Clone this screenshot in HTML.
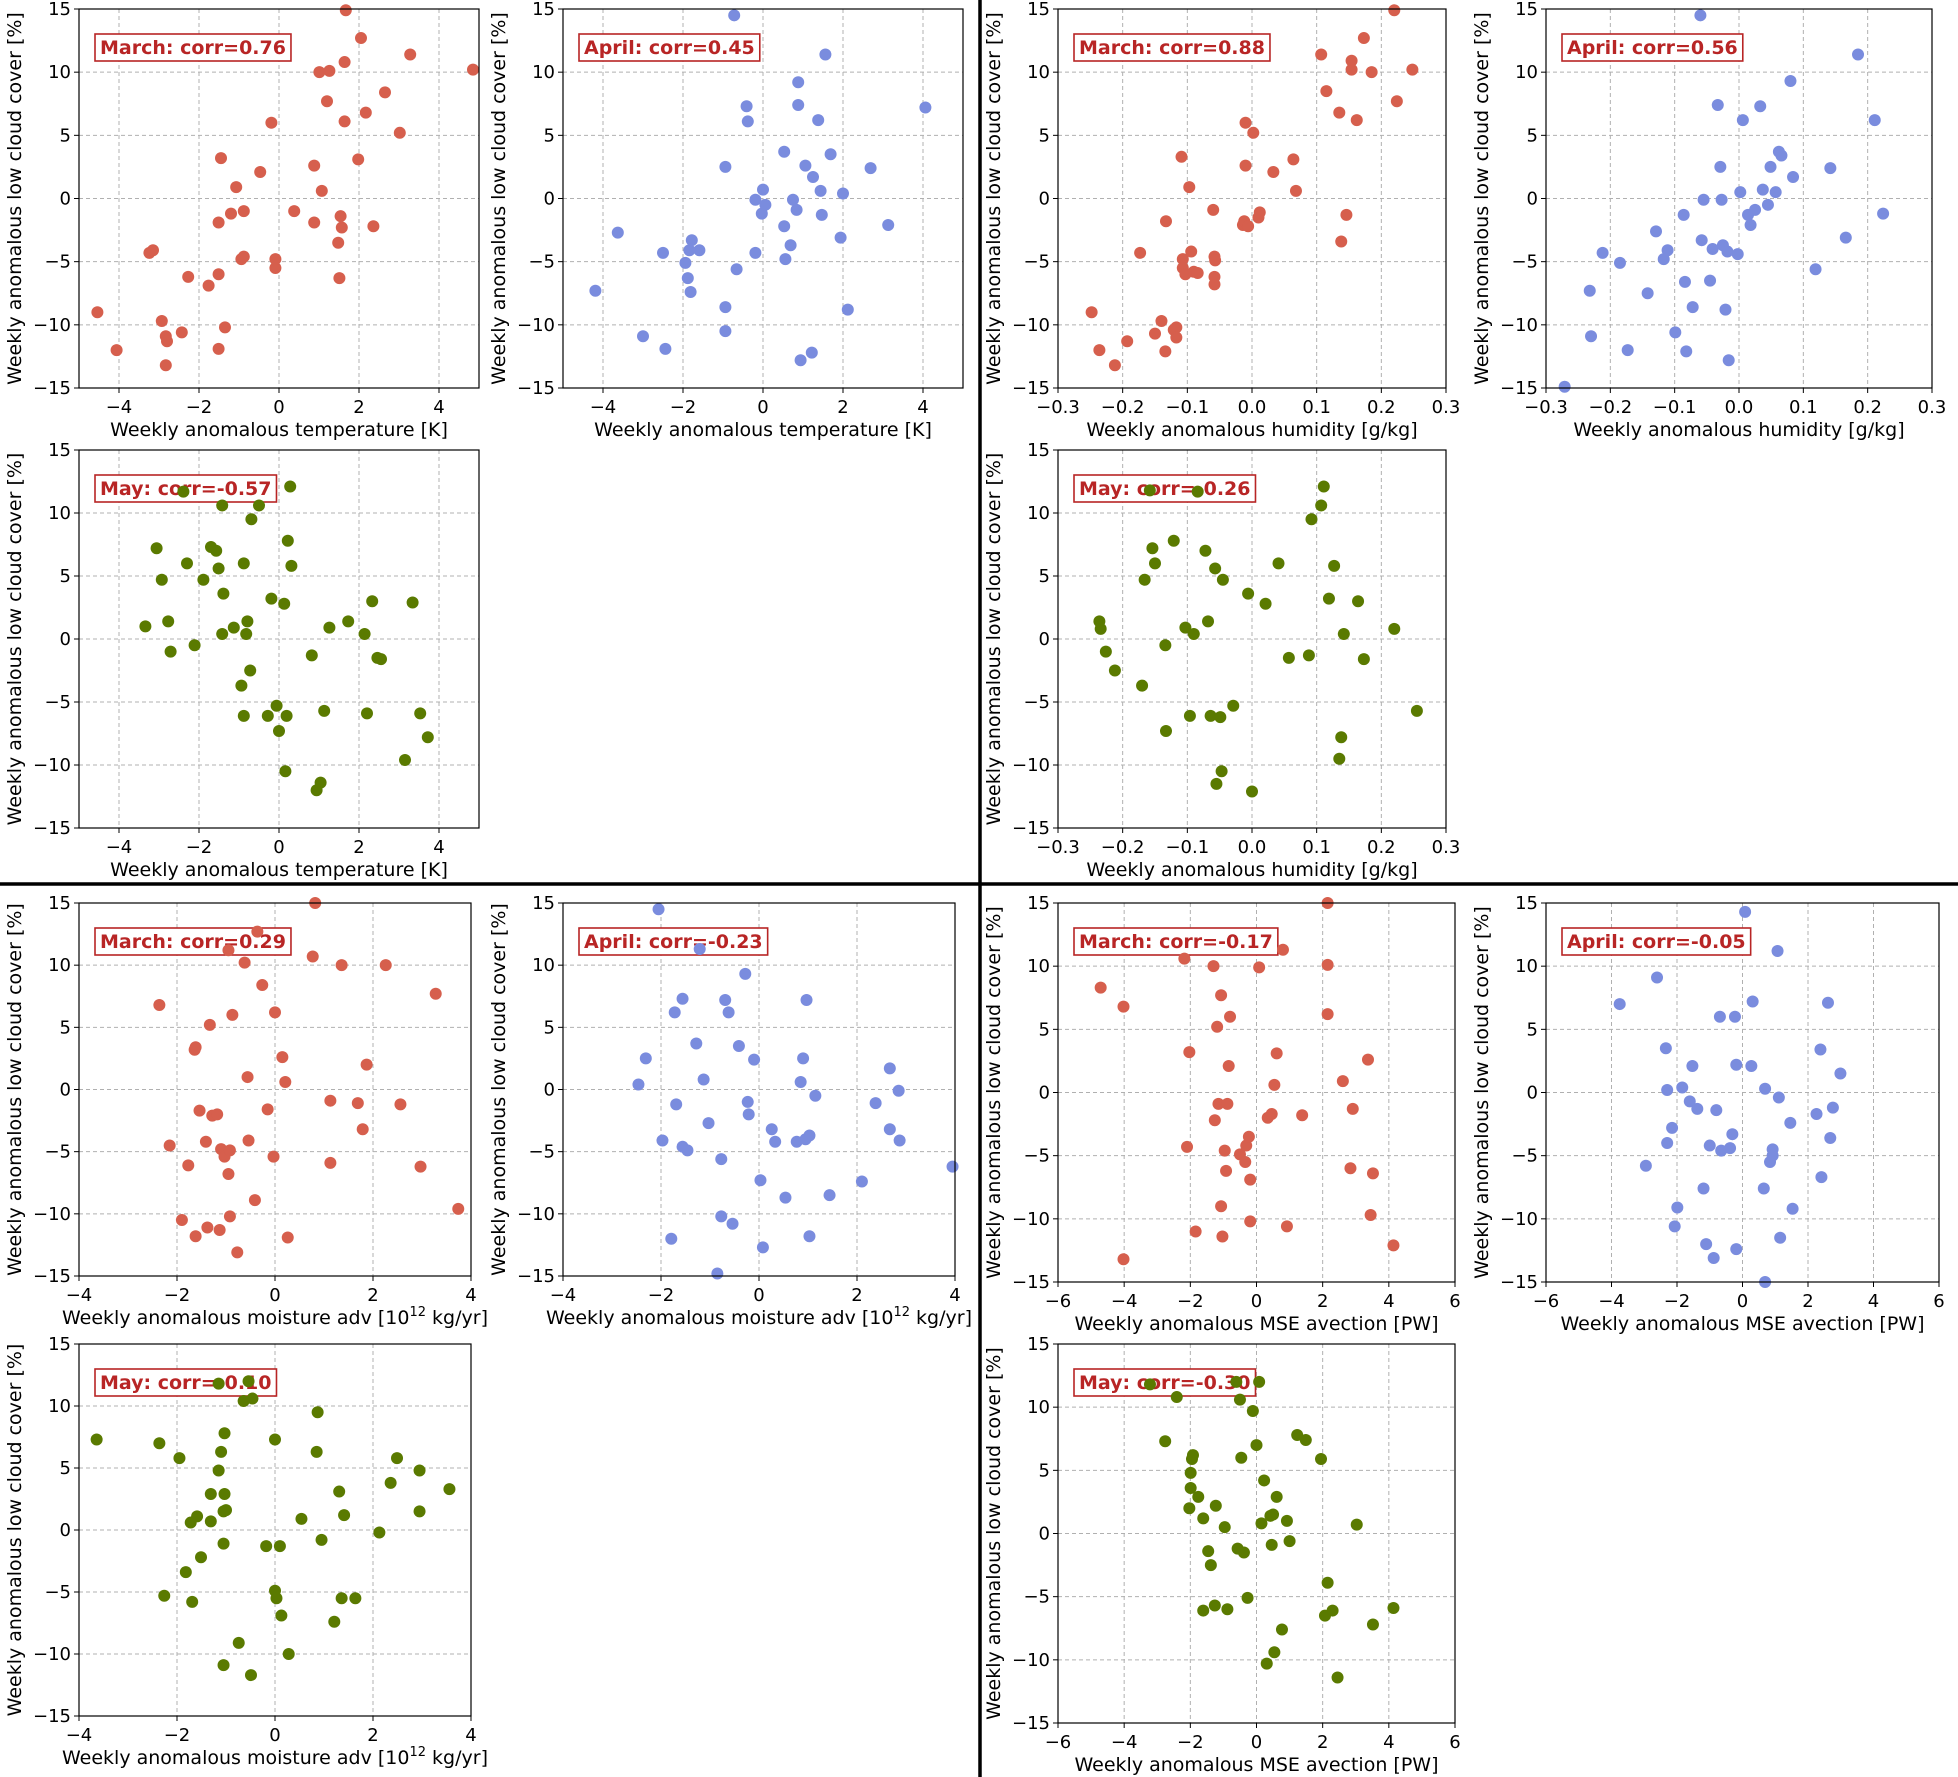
<!DOCTYPE html>
<html><head><meta charset="utf-8"><title>Weekly anomalous low cloud cover scatter panels</title>
<style>
html,body{margin:0;padding:0;background:#fff;}
svg{display:block;font-family:"DejaVu Sans","Liberation Sans",sans-serif;}
</style></head>
<body>
<svg id="fig" width="1958" height="1777" viewBox="0 0 1958 1777" xmlns="http://www.w3.org/2000/svg">
<rect x="0" y="0" width="1958" height="1777" fill="#fff"/>
<line x1="980" y1="0" x2="980" y2="1777" stroke="#000" stroke-width="3.5"/>
<line x1="0" y1="884" x2="1958" y2="884" stroke="#000" stroke-width="3.5"/>
</svg>
<script>
// ---- data (x = predictor anomaly, y = low cloud cover anomaly [%]) ----
const tempMarX=[-4.54,-4.06,-3.24,-3.15,-2.93,-2.83,-2.80,-2.83,-2.43,-2.27,-1.76,-1.45,-1.51,-1.51,-1.51,-1.35,-1.20,-1.07,-0.94,-0.88,-0.88,-0.47,-0.19,-0.09,-0.09,0.38,0.88,0.88,1.01,1.07,1.20,1.26,1.54,1.57,1.64,1.64,1.67,1.51,1.48,1.98,2.05,2.17,2.36,2.65,3.02,3.28,4.85];
const tempMarY=[-9.0,-12.0,-4.3,-4.1,-9.7,-10.9,-11.3,-13.2,-10.6,-6.2,-6.9,3.2,-1.9,-6.0,-11.9,-10.2,-1.2,0.9,-4.8,-4.6,-1.0,2.1,6.0,-5.5,-4.8,-1.0,2.6,-1.9,10.0,0.6,7.7,10.1,-1.4,-2.3,6.1,10.8,14.9,-6.3,-3.5,3.1,12.7,6.8,-2.2,8.4,5.2,11.4,10.2];
const tempAprX=[-4.19,-3.63,-3.0,-2.5,-2.44,-1.94,-1.88,-1.84,-1.81,-1.78,-1.59,-0.94,-0.94,-0.94,-0.66,-0.72,-0.41,-0.38,-0.19,-0.19,-0.03,0,0.06,0.53,0.53,0.56,0.69,0.75,0.84,0.88,0.88,0.94,1.06,1.22,1.25,1.38,1.44,1.47,1.56,1.69,1.94,2.0,2.12,2.69,3.13,4.06];
const tempAprY=[-7.3,-2.7,-10.9,-4.3,-11.9,-5.1,-6.3,-4.1,-7.4,-3.3,-4.1,2.5,-8.6,-10.5,-5.6,14.5,7.3,6.1,-0.1,-4.3,-1.2,0.7,-0.5,3.7,-2.2,-4.8,-3.7,-0.1,-0.9,9.2,7.4,-12.8,2.6,-12.2,1.7,6.2,0.6,-1.3,11.4,3.5,-3.1,0.4,-8.8,2.4,-2.1,7.2];
const humMarX=[-0.248,-0.236,-0.212,-0.193,-0.173,-0.150,-0.140,-0.134,-0.133,-0.121,-0.117,-0.117,-0.109,-0.107,-0.107,-0.103,-0.097,-0.094,-0.090,-0.084,-0.060,-0.058,-0.058,-0.058,-0.057,-0.014,-0.012,-0.010,-0.010,-0.006,0.002,0.010,0.012,0.033,0.064,0.068,0.107,0.115,0.135,0.138,0.146,0.154,0.154,0.162,0.173,0.185,0.220,0.224,0.248];
const humMarY=[-9.0,-12.0,-13.2,-11.3,-4.3,-10.7,-9.7,-12.1,-1.8,-10.4,-10.2,-11.0,3.3,-4.8,-5.5,-6.0,0.9,-4.2,-5.8,-5.9,-0.9,-6.8,-4.6,-6.2,-4.9,-2.1,-1.8,6.0,2.6,-2.2,5.2,-1.5,-1.1,2.1,3.1,0.6,11.4,8.5,6.8,-3.4,-1.3,10.2,10.9,6.2,12.7,10.0,14.9,7.7,10.2];
const humAprX=[-0.271,-0.232,-0.230,-0.212,-0.185,-0.173,-0.142,-0.129,-0.117,-0.111,-0.099,-0.086,-0.084,-0.082,-0.072,-0.060,-0.058,-0.055,-0.045,-0.041,-0.033,-0.029,-0.027,-0.025,-0.021,-0.018,-0.016,-0.002,0.002,0.006,0.014,0.018,0.025,0.033,0.037,0.045,0.049,0.057,0.062,0.066,0.080,0.084,0.119,0.142,0.166,0.185,0.211,0.224];
const humAprY=[-14.9,-7.3,-10.9,-4.3,-5.1,-12.0,-7.5,-2.6,-4.8,-4.1,-10.6,-1.3,-6.6,-12.1,-8.6,14.5,-3.3,-0.1,-6.5,-4.0,7.4,2.5,-0.1,-3.7,-8.8,-4.2,-12.8,-4.4,0.5,6.2,-1.3,-2.1,-0.9,7.3,0.7,-0.5,2.5,0.5,3.7,3.4,9.3,1.7,-5.6,2.4,-3.1,11.4,6.2,-1.2];
const tempMayX=[-3.34,-3.06,-2.93,-2.77,-2.71,-2.39,-2.30,-2.11,-1.89,-1.70,-1.57,-1.51,-1.39,-1.42,-1.42,-1.13,-0.94,-0.88,-0.88,-0.82,-0.79,-0.72,-0.69,-0.50,-0.28,-0.19,-0.06,0,0.13,0.19,0.16,0.22,0.28,0.31,0.82,0.94,1.04,1.13,1.26,1.73,2.14,2.20,2.33,2.46,2.55,3.15,3.34,3.53,3.72];
const tempMayY=[1.0,7.2,4.7,1.4,-1.0,11.7,6.0,-0.5,4.7,7.3,7.0,5.6,3.6,10.6,0.4,0.9,-3.7,6.0,-6.1,0.4,1.4,-2.5,9.5,10.6,-6.1,3.2,-5.3,-7.3,2.8,-6.1,-10.5,7.8,12.1,5.8,-1.3,-12.0,-11.4,-5.7,0.9,1.4,0.4,-5.9,3.0,-1.5,-1.6,-9.6,2.9,-5.9,-7.8];
const humMayX=[-0.236,-0.234,-0.226,-0.212,-0.170,-0.166,-0.158,-0.154,-0.150,-0.134,-0.133,-0.121,-0.103,-0.096,-0.090,-0.084,-0.072,-0.068,-0.064,-0.057,-0.055,-0.049,-0.047,-0.045,-0.029,-0.006,0.021,0.041,0.057,0.088,0.092,0.107,0.111,0.119,0.127,0.135,0.138,0.142,0.164,0.173,0.220,0.255,0.0];
const humMayY=[1.4,0.8,-1.0,-2.5,-3.7,4.7,11.8,7.2,6.0,-0.5,-7.3,7.8,0.9,-6.1,0.4,11.7,7.0,1.4,-6.1,5.6,-11.5,-6.2,-10.5,4.7,-5.3,3.6,2.8,6.0,-1.5,-1.3,9.5,10.6,12.1,3.2,5.8,-9.5,-7.8,0.4,3.0,-1.6,0.8,-5.7,-12.1];
const moiMarX=[-2.36,-2.15,-1.90,-1.77,-1.64,-1.62,-1.62,-1.54,-1.41,-1.38,-1.33,-1.28,-1.18,-1.13,-1.10,-1.03,-0.95,-0.92,-0.95,-0.92,-0.87,-0.77,-0.62,-0.56,-0.54,-0.41,-0.26,-0.36,-0.15,-0.03,0,0.15,0.21,0.26,0.77,0.82,1.13,1.13,1.36,1.69,1.79,1.87,2.26,2.56,2.97,3.28,3.74];
const moiMarY=[6.8,-4.5,-10.5,-6.1,3.2,-11.8,3.4,-1.7,-4.2,-11.1,5.2,-2.1,-2.0,-11.3,-4.8,-5.4,-6.8,-4.9,11.2,-10.2,6.0,-13.1,10.2,1.0,-4.1,-8.9,8.4,12.7,-1.6,-5.4,6.2,2.6,0.6,-11.9,10.7,15.0,-0.9,-5.9,10.0,-1.1,-3.2,2.0,10.0,-1.2,-6.2,7.7,-9.6];
const moiAprX=[-2.46,-2.31,-1.97,-2.05,-1.79,-1.69,-1.72,-1.56,-1.56,-1.46,-1.28,-1.21,-1.13,-1.03,-0.77,-0.77,-0.69,-0.62,-0.54,-0.85,-0.41,-0.28,-0.23,-0.21,-0.10,0.03,0.08,0.26,0.33,0.54,0.77,0.85,0.90,0.95,0.97,1.03,1.03,1.15,1.44,2.10,2.38,2.67,2.67,2.85,2.87,3.95];
const moiAprY=[0.4,2.5,-4.1,14.5,-12.0,-1.2,6.2,7.3,-4.6,-4.9,3.7,11.3,0.8,-2.7,-5.6,-10.2,7.2,6.2,-10.8,-14.8,3.5,9.3,-1.0,-2.0,2.4,-7.3,-12.7,-3.2,-4.2,-8.7,-4.2,0.6,2.5,-4.0,7.2,-3.7,-11.8,-0.5,-8.5,-7.4,-1.1,1.7,-3.2,-0.1,-4.1,-6.2];
const mseMarX=[-4.71,-4.02,-4.02,-2.18,-2.03,-2.10,-1.84,-1.30,-1.26,-1.19,-1.15,-1.07,-1.07,-1.03,-0.96,-0.92,-0.88,-0.84,-0.80,-0.50,-0.34,-0.31,-0.23,-0.19,-0.19,0.08,0.34,0.46,0.54,0.61,0.80,0.92,1.38,2.15,2.15,2.15,2.61,2.84,2.91,3.37,3.52,3.45,4.14];
const mseMarY=[8.3,6.8,-13.2,10.6,3.2,-4.3,-11.0,10.0,-2.2,5.2,-0.9,7.7,-9.0,-11.4,-4.6,-6.2,-0.9,2.1,6.0,-4.9,-5.5,-4.2,-3.5,-6.9,-10.2,9.9,-2.0,-1.7,0.6,3.1,11.3,-10.6,-1.8,15.0,6.2,10.1,0.9,-6.0,-1.3,2.6,-6.4,-9.7,-12.1];
const mseAprX=[-3.75,-2.95,-2.61,-2.30,-2.34,-2.30,-2.15,-2.07,-1.99,-1.84,-1.61,-1.53,-1.38,-1.19,-1.11,-1.00,-0.88,-0.80,-0.69,-0.65,-0.38,-0.31,-0.23,-0.19,-0.19,0.08,0.27,0.31,0.69,0.65,0.69,0.84,0.92,0.92,1.07,1.11,1.15,1.46,1.53,2.26,2.38,2.41,2.61,2.68,2.76,2.99];
const mseAprY=[7.0,-5.8,9.1,-4.0,3.5,0.2,-2.8,-10.6,-9.1,0.4,-0.7,2.1,-1.3,-7.6,-12.0,-4.2,-13.1,-1.4,6.0,-4.6,-4.4,-3.3,6.0,2.2,-12.4,14.3,2.1,7.2,0.3,-7.6,-15.0,-5.5,-5.0,-4.5,11.2,-0.4,-11.5,-2.4,-9.2,-1.7,3.4,-6.7,7.1,-3.6,-1.2,1.5];
const moiMayX=[-3.64,-2.36,-1.95,-2.26,-1.82,-1.72,-1.69,-1.59,-1.51,-1.31,-1.31,-1.15,-1.15,-1.10,-1.05,-1.03,-1.05,-1.03,-1.05,-1.00,-0.74,-0.64,-0.54,-0.46,-0.49,-0.18,0,0,0.03,0.10,0.13,0.28,0.54,0.85,0.87,0.95,1.21,1.31,1.36,1.41,1.64,2.13,2.36,2.49,2.95,2.95,3.56];
const moiMayY=[7.3,7.0,5.8,-5.3,-3.4,0.6,-5.8,1.1,-2.2,2.9,0.7,11.8,4.8,6.3,-1.1,2.9,1.5,7.8,-10.9,1.6,-9.1,10.4,12.0,10.6,-11.7,-1.3,7.3,-4.9,-5.5,-1.3,-6.9,-10.0,0.9,6.3,9.5,-0.8,-7.4,3.1,-5.5,1.2,-5.5,-0.2,3.8,5.8,4.8,1.5,3.3];
const mseMayX=[-3.22,-2.76,-2.41,-2.03,-1.99,-1.99,-1.95,-1.92,-1.76,-1.61,-1.61,-1.46,-1.38,-1.23,-1.26,-0.96,-0.88,-0.61,-0.57,-0.50,-0.46,-0.38,-0.27,-0.11,0,0.08,0.15,0.23,0.31,0.42,0.46,0.50,0.54,0.61,0.77,0.92,1.00,1.23,1.49,1.95,2.07,2.15,2.30,2.45,3.03,3.52,4.14];
const mseMayY=[11.8,7.3,10.8,2.0,4.8,3.6,5.9,6.2,2.9,1.2,-6.1,-1.4,-2.5,2.2,-5.7,0.5,-6.0,12.0,-1.2,10.6,6.0,-1.5,-5.1,9.7,7.0,12.0,0.8,4.2,-10.3,1.4,-0.9,1.5,-9.4,2.9,-7.6,1.0,-0.6,7.8,7.4,5.9,-6.5,-3.9,-6.1,-11.4,0.7,-7.2,-5.9];

const yTickVals=[-15,-10,-5,0,5,10,15];
const tempTicks=[-4,-2,0,2,4];
const humTicks=[-0.3,-0.2,-0.1,0.0,0.1,0.2,0.3];
const humTickLabels=["\u22120.3","\u22120.2","\u22120.1","0.0","0.1","0.2","0.3"];
const moiTicks=[-4,-2,0,2,4];
const mseTicks=[-6,-4,-2,0,2,4,6];

const RED="#d65f4d",BLUE="#7a8cde",OLIVE="#5a7a00";
const panels=[
 {id:"temp-march",x0:79,x1:479,y0:9,y1:388,xlim:[-5,5],ticks:tempTicks,xs:tempMarX,ys:tempMarY,c:RED,t:"March: corr=0.76",lab:"temp"},
 {id:"temp-april",x0:563,x1:963,y0:9,y1:388,xlim:[-5,5],ticks:tempTicks,xs:tempAprX,ys:tempAprY,c:BLUE,t:"April: corr=0.45",lab:"temp"},
 {id:"hum-march",x0:1058,x1:1446,y0:9,y1:388,xlim:[-0.3,0.3],ticks:humTicks,tl:humTickLabels,xs:humMarX,ys:humMarY,c:RED,t:"March: corr=0.88",lab:"hum"},
 {id:"hum-april",x0:1546,x1:1932,y0:9,y1:388,xlim:[-0.3,0.3],ticks:humTicks,tl:humTickLabels,xs:humAprX,ys:humAprY,c:BLUE,t:"April: corr=0.56",lab:"hum"},
 {id:"temp-may",x0:79,x1:479,y0:450,y1:828,xlim:[-5,5],ticks:tempTicks,xs:tempMayX,ys:tempMayY,c:OLIVE,t:"May: corr=-0.57",lab:"temp"},
 {id:"hum-may",x0:1058,x1:1446,y0:450,y1:828,xlim:[-0.3,0.3],ticks:humTicks,tl:humTickLabels,xs:humMayX,ys:humMayY,c:OLIVE,t:"May: corr=-0.26",lab:"hum"},
 {id:"moist-march",x0:79,x1:471,y0:903,y1:1276,xlim:[-4,4],ticks:moiTicks,xs:moiMarX,ys:moiMarY,c:RED,t:"March: corr=0.29",lab:"moi"},
 {id:"moist-april",x0:563,x1:955,y0:903,y1:1276,xlim:[-4,4],ticks:moiTicks,xs:moiAprX,ys:moiAprY,c:BLUE,t:"April: corr=-0.23",lab:"moi"},
 {id:"mse-march",x0:1058,x1:1455,y0:903,y1:1282,xlim:[-6,6],ticks:mseTicks,xs:mseMarX,ys:mseMarY,c:RED,t:"March: corr=-0.17",lab:"mse"},
 {id:"mse-april",x0:1546,x1:1939,y0:903,y1:1282,xlim:[-6,6],ticks:mseTicks,xs:mseAprX,ys:mseAprY,c:BLUE,t:"April: corr=-0.05",lab:"mse"},
 {id:"moist-may",x0:79,x1:471,y0:1344,y1:1716,xlim:[-4,4],ticks:moiTicks,xs:moiMayX,ys:moiMayY,c:OLIVE,t:"May: corr=-0.10",lab:"moi"},
 {id:"mse-may",x0:1058,x1:1455,y0:1344,y1:1723,xlim:[-6,6],ticks:mseTicks,xs:mseMayX,ys:mseMayY,c:OLIVE,t:"May: corr=-0.30",lab:"mse"}
];

const NS="http://www.w3.org/2000/svg";
const svg=document.getElementById("fig");
function mk(tag,parent,attrs){const e=document.createElementNS(NS,tag);for(const k in attrs)e.setAttribute(k,attrs[k]);parent.appendChild(e);return e;}
function fmt(v){return (v<0?"\u2212":"")+Math.abs(v);}

panels.forEach(p=>{
  const g=mk("g",svg,{});
  
  
  const sx=v=>p.x0+(v-p.xlim[0])/(p.xlim[1]-p.xlim[0])*(p.x1-p.x0);
  const sy=v=>p.y1-(v+15)/30*(p.y1-p.y0);
  p.ticks.forEach((t,i)=>{
    const l=mk("line",g,{x1:sx(t),x2:sx(t),y1:p.y0,y2:p.y1,stroke:"#b0b0b0","stroke-width":1,"stroke-dasharray":"4,3"});
    
    
    const tk=mk("line",g,{x1:sx(t),x2:sx(t),y1:p.y1,y2:p.y1+5,stroke:"#000","stroke-width":1});
    
    
    const tx=mk("text",g,{x:sx(t),y:p.y1+25,"text-anchor":"middle","font-size":18,fill:"#000"});
    tx.textContent=p.tl?p.tl[i]:fmt(t);
    
    
  });
  yTickVals.forEach(t=>{
    const l=mk("line",g,{x1:p.x0,x2:p.x1,y1:sy(t),y2:sy(t),stroke:"#b0b0b0","stroke-width":1,"stroke-dasharray":"4,3"});
    
    
    const tk=mk("line",g,{x1:p.x0-5,x2:p.x0,y1:sy(t),y2:sy(t),stroke:"#000","stroke-width":1});
    
    
    const tx=mk("text",g,{x:p.x0-8,y:sy(t)+6,"text-anchor":"end","font-size":18,fill:"#000"});
    tx.textContent=fmt(t);
    
    
  });
  const tb=mk("rect",g,{x:p.x0+16,y:p.y0+25,width:210,height:27,fill:"#fff",stroke:"#b82525","stroke-width":1.6});
  
  
  const tt=mk("text",g,{x:p.x0+21,y:p.y0+45,"font-size":19,"font-weight":"bold",fill:"#b82525"});
  tt.textContent=p.t;
  
  
  try{tb.setAttribute("width",tt.getComputedTextLength()+10);}catch(e){}
  p.xs.forEach((xv,i)=>{
    const c=mk("circle",g,{cx:sx(xv),cy:sy(p.ys[i]),r:6,fill:p.c});
    
    
  });
  const fr=mk("rect",g,{x:p.x0,y:p.y0,width:p.x1-p.x0,height:p.y1-p.y0,fill:"none",stroke:"#000","stroke-width":1.2});
  
  
  const yl=mk("text",g,{x:0,y:0,"text-anchor":"middle","font-size":19,fill:"#000",transform:`translate(${p.x0-58},${(p.y0+p.y1)/2}) rotate(-90)`});
  yl.textContent="Weekly anomalous low cloud cover [%]";
  
  
  const xl=mk("text",g,{x:(p.x0+p.x1)/2,y:p.y1+48,"text-anchor":"middle","font-size":19,fill:"#000"});
  
  
  if(p.lab==="temp") xl.textContent="Weekly anomalous temperature [K]";
  else if(p.lab==="hum") xl.textContent="Weekly anomalous humidity [g/kg]";
  else if(p.lab==="mse") xl.textContent="Weekly anomalous MSE avection [PW]";
  else {
    xl.appendChild(document.createTextNode("Weekly anomalous moisture adv [10"));
    const sup=mk("tspan",xl,{"font-size":13,dy:-8});sup.textContent="12";
    const rest=mk("tspan",xl,{dy:8});rest.textContent=" kg/yr]";
  }
});
</script>
</body></html>
